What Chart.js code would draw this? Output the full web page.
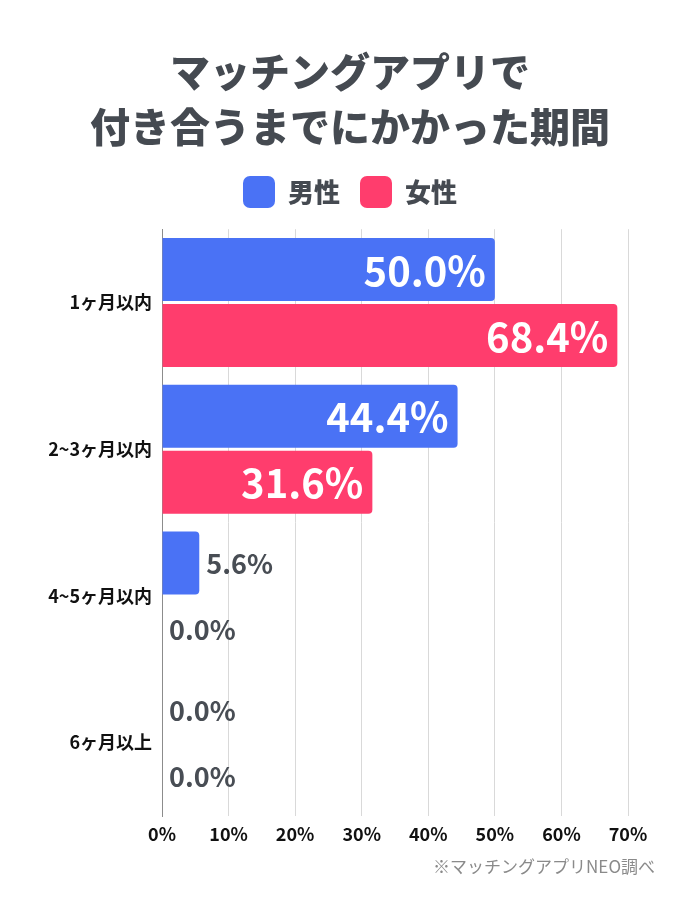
<!DOCTYPE html>
<html>
<head>
<meta charset="utf-8">
<script src="https://cdn.jsdelivr.net/npm/chart.js@4/dist/chart.umd.min.js"></script>
<style>
  body { margin: 0; background: #fff; }
  #wrap { position: relative; width: 700px; height: 900px; }
  #source {
    position: absolute; right: 45px; top: 853px;
    font-family: "Noto Sans CJK JP", sans-serif; font-size: 17px; color: #8a8a8a;
  }
</style>
</head>
<body>
<div id="wrap">
  <canvas id="myChart" width="700" height="900"></canvas>
  <div id="source">※マッチングアプリNEO調べ</div>
</div>
<script>
var categories = ["1ヶ月以内", "2~3ヶ月以内", "4~5ヶ月以内", "6ヶ月以上"];
var maleValues = [50.0, 44.4, 5.6, 0.0];
var femaleValues = [68.4, 31.6, 0.0, 0.0];
var xTicks = [0, 10, 20, 30, 40, 50, 60, 70];

var jp = '"Noto Sans CJK JP", "Noto Sans", sans-serif';

// value labels on the bars
var valueLabels = {
  id: "valueLabels",
  afterDatasetsDraw: function (chart) {
    var c = chart.ctx;
    chart.data.datasets.forEach(function (ds, i) {
      var meta = chart.getDatasetMeta(i);
      meta.data.forEach(function (bar, j) {
        var v = ds.data[j];
        var txt = v.toFixed(1) + "%";
        c.save();
        c.textBaseline = "middle";
        if (v >= 20) {
          c.font = "bold 40px " + jp;
          c.fillStyle = "#ffffff";
          c.textAlign = "right";
          c.fillText(txt, bar.x - 9, bar.y + 1);
        } else {
          c.font = "bold 27px " + jp;
          c.fillStyle = "#484d54";
          c.textAlign = "left";
          c.fillText(txt, bar.x + 7, bar.y + 1);
        }
        c.restore();
      });
    });
  }
};

var ctx = document.getElementById("myChart").getContext("2d");
var myChart = new Chart(ctx, {
  type: "bar",
  data: {
    labels: categories,
    datasets: [
      {
        label: "男性",
        data: maleValues,
        backgroundColor: "#4a72f5",
        borderRadius: 4,
        borderSkipped: "start",
        barPercentage: 0.955,
        categoryPercentage: 0.9
      },
      {
        label: "女性",
        data: femaleValues,
        backgroundColor: "#ff3d6d",
        borderRadius: 4,
        borderSkipped: "start",
        barPercentage: 0.955,
        categoryPercentage: 0.9
      }
    ]
  },
  options: {
    indexAxis: "y",
    responsive: false,
    animation: false,
    layout: { padding: { left: 0, right: 0, top: 0, bottom: 54 } },
    plugins: {
      title: {
        display: true,
        text: ["マッチングアプリで", "付き合うまでにかかった期間"],
        color: "#454a51",
        font: { family: jp, size: 40, weight: "900", lineHeight: 1.375 },
        padding: { top: 44, bottom: 2 }
      },
      legend: {
        display: true,
        labels: {
          boxWidth: 32,
          boxHeight: 32,
          useBorderRadius: true,
          borderRadius: 7,
          color: "#454a51",
          font: { family: jp, size: 26, weight: "900" },
          padding: 20
        }
      },
      // empty spacer between legend and plot
      subtitle: {
        display: true,
        text: "",
        weight: 500,
        font: { size: 1 },
        padding: { top: 5, bottom: 5 }
      },
      tooltip: { enabled: false }
    },
    scales: {
      x: {
        min: 0,
        max: 70,
        afterBuildTicks: function (scale) {
          scale.ticks = xTicks.map(function (v) { return { value: v }; });
        },
        afterFit: function (scale) {
          scale.height = 30;
          scale.paddingRight = 72;
        },
        ticks: {
          color: "#111111",
          font: { family: jp, size: 18, weight: "bold" },
          padding: 7,
          callback: function (v) { return v + "%"; }
        },
        grid: { color: "#d9d9d9", lineWidth: 1, drawTicks: false },
        border: { display: false }
      },
      y: {
        afterFit: function (scale) { scale.width = 162; },
        ticks: {
          color: "#111111",
          font: { family: jp, size: 18, weight: "bold" },
          padding: 10
        },
        grid: { display: false, drawTicks: false },
        border: { display: true, color: "#8c8c8c", width: 1 }
      }
    }
  },
  plugins: [valueLabels]
});
</script>
</body>
</html>
